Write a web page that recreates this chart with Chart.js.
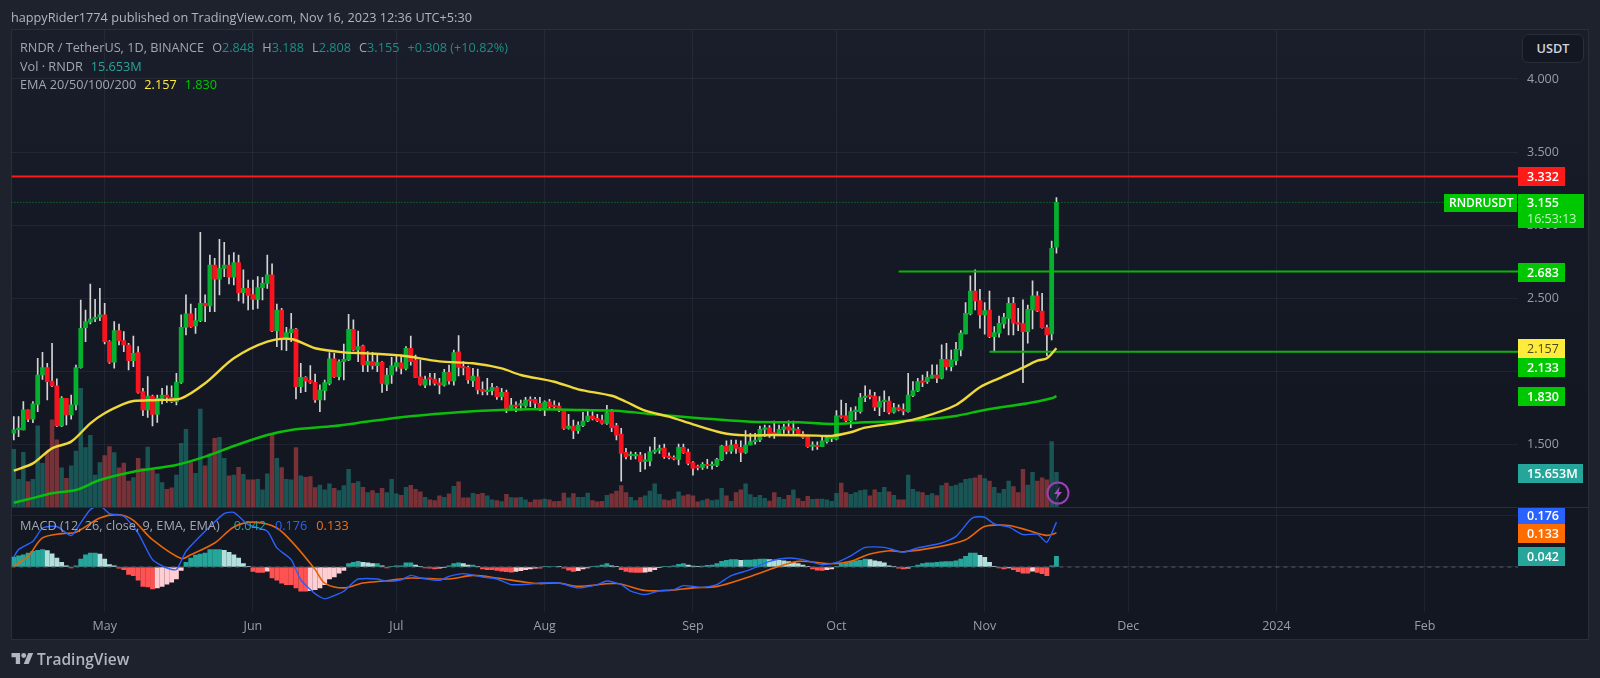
<!DOCTYPE html>
<html>
<head>
<meta charset="UTF-8">
<title>RNDR / TetherUS</title>
<style>
  html, body { margin: 0; width: 1600px; height: 678px; overflow: hidden; background: #1e222d; }
  body { position: relative; font-family: "Open Sans", sans-serif; font-size: 12.7px; color: #a3a6af; }
  #pane { position: absolute; left: 11px; top: 29px; width: 1576px; height: 609px; border: 1px solid #2a2e39;
          background: linear-gradient(#1a1e2a 0, #151925 200px, #131722 400px); }
  canvas { position: absolute; left: 0; top: 0; display: block; }
  .abs { position: absolute; white-space: nowrap; }
  .legend { line-height: 16px; }
  .legend span { margin-left: 8px; }
  .up { color: #1f8d82; }
  .tag { position: absolute; left: 1518px; width: 47px; height: 19px; line-height: 19px; box-sizing: border-box;
         padding-left: 9px; color: #fff; font-weight: 600; font-size: 12.5px; }
  #sep { position: absolute; left: 12px; top: 507px; width: 1576px; height: 1px; background: #2a2e39; }
  #unit { left: 1522px; top: 34px; width: 62px; height: 29px; line-height: 27px; box-sizing: border-box; text-align: center;
          border: 1px solid #2a2e39; border-radius: 6px; background: #131722; color: #d1d4dc; font-weight: 600; }
</style>
</head>
<body>
<div id="pane"></div>
<canvas id="chart" width="1600" height="678"></canvas>
<div id="sep"></div>

<div class="abs" style="left:11px;top:9px;color:#b2b5be;line-height:16px">happyRider1774 published on TradingView.com, Nov 16, 2023 12:36 UTC+5:30</div>
<div class="abs legend" style="left:20px;top:39px">RNDR / TetherUS, 1D, BINANCE<span>O<b class="up" style="font-weight:400">2.848</b></span><span>H<b class="up" style="font-weight:400">3.188</b></span><span>L<b class="up" style="font-weight:400">2.808</b></span><span>C<b class="up" style="font-weight:400">3.155</b></span><span class="up">+0.308 (+10.82%)</span></div>
<div class="abs legend" style="left:20px;top:58px">Vol · RNDR<span class="up" style="color:#26a69a">15.653M</span></div>
<div class="abs legend" style="left:20px;top:76px">EMA 20/50/100/200<span style="color:#ffeb3b">2.157</span><span style="color:#00c800">1.830</span></div>
<div class="abs legend" style="left:20px;top:517px">MACD (12, 26, close, 9, EMA, EMA)<span style="color:#26a69a;margin-left:14px">0.042</span><span style="color:#2962ff;margin-left:9px">0.176</span><span style="color:#ff6d00;margin-left:9px">0.133</span></div>

<div class="abs" id="unit">USDT</div>
<div class="tag" style="top:167px;background:#ff1a1a">3.332</div>
<div class="tag" style="left:1444px;top:194px;width:73px;height:18px;line-height:18px;padding-left:5px;font-size:12px;background:#00c800">RNDRUSDT</div>
<div class="tag" style="top:194px;width:66px;height:34px;line-height:16px;padding-top:1px;background:#00c800">3.155<br><span style="font-weight:400;color:#c6f2c6">16:53:13</span></div>
<div class="tag" style="top:263px;background:#00c800">2.683</div>
<div class="tag" style="top:339px;background:#ffeb3b;color:#4c4a1c;font-weight:400">2.157</div>
<div class="tag" style="top:358px;background:#00c800">2.133</div>
<div class="tag" style="top:387px;background:#00c800">1.830</div>
<div class="tag" style="top:464px;width:65px;background:#26a69a">15.653M</div>
<div class="tag" style="top:508px;height:16px;line-height:16px;background:#2962ff">0.176</div>
<div class="tag" style="top:524px;background:#ff6d00">0.133</div>
<div class="tag" style="top:547px;background:#26a69a">0.042</div>

<svg class="abs" style="left:1046px;top:481px" width="24" height="24" viewBox="0 0 24 24">
  <circle cx="12" cy="12" r="10.5" fill="#131722" fill-opacity="0.55" stroke="#9c3fb5" stroke-width="2"/>
  <path d="M14 5.5 L8 13 H11.5 L10 18.5 L16 11 H12.5 Z" fill="#a94cc2"/>
</svg>

<svg class="abs" style="left:11px;top:653px" width="23" height="11" viewBox="0 4 36 18">
  <path fill="#b2b5be" d="M14 22H7V11H0V4h14v18zM28 22h-8l7.5-18h8L28 22z"/><circle fill="#b2b5be" cx="20" cy="8" r="4"/>
</svg>
<div class="abs" style="left:37px;top:649px;font-size:15.5px;line-height:20px;font-weight:600;color:#b2b5be">TradingView</div>

<script src="https://cdn.jsdelivr.net/npm/chart.js@4"></script>
<script>
const firstDay = '2023-04-12';
const slotCount = 315;

const monthDays = ['2023-05-01', '2023-06-01', '2023-07-01', '2023-08-01', '2023-09-01', '2023-10-01', '2023-11-01', '2023-12-01', '2024-01-01', '2024-02-01'];
const monthNames = ['May', 'Jun', 'Jul', 'Aug', 'Sep', 'Oct', 'Nov', 'Dec', '2024', 'Feb'];
const priceTicks = [1.5, 2, 2.5, 3, 3.5, 4];
const macdTicks = [0, 0.2];

const opens = [
  1.575,1.600,1.598,1.735,1.671,1.773,1.974,2.024,1.933,1.899,
  1.625,1.814,1.700,1.769,2.024,2.298,2.335,2.357,2.369,2.385,
  2.202,2.061,2.278,2.209,2.179,2.072,2.127,1.860,1.735,1.830,
  1.705,1.814,1.837,1.821,1.792,1.924,2.300,2.392,2.310,2.346,
  2.465,2.446,2.727,2.629,2.704,2.727,2.643,2.743,2.538,2.567,
  2.524,2.492,2.572,2.601,2.659,2.275,2.419,2.218,2.264,2.289,
  1.894,1.958,1.938,1.924,1.803,1.866,1.917,2.084,1.963,2.065,
  2.077,2.287,2.145,2.173,2.043,2.065,2.038,2.061,1.910,1.974,
  2.031,2.058,2.019,2.156,2.076,1.962,1.905,1.951,1.946,1.921,
  1.905,1.992,1.933,2.133,2.026,2.026,1.935,1.962,1.876,1.860,
  1.867,1.887,1.825,1.855,1.746,1.768,1.768,1.762,1.807,1.807,
  1.780,1.746,1.791,1.760,1.762,1.734,1.609,1.625,1.593,1.627,
  1.659,1.693,1.677,1.666,1.643,1.723,1.627,1.570,1.444,1.422,
  1.420,1.426,1.383,1.385,1.447,1.460,1.474,1.419,1.410,1.396,
  1.479,1.447,1.374,1.346,1.342,1.362,1.353,1.355,1.392,1.488,
  1.453,1.499,1.479,1.444,1.495,1.518,1.529,1.602,1.613,1.573,
  1.570,1.602,1.620,1.597,1.602,1.570,1.552,1.485,1.487,1.484,
  1.518,1.538,1.534,1.696,1.694,1.662,1.723,1.723,1.819,1.833,
  1.830,1.753,1.792,1.796,1.719,1.751,1.739,1.723,1.833,1.865,
  1.933,1.929,1.952,1.974,1.952,2.082,2.031,2.072,2.145,2.255,
  2.392,2.549,2.483,2.385,2.419,2.237,2.260,2.323,2.362,2.465,
  2.333,2.326,2.271,2.419,2.515,2.412,2.298,2.255,2.848
];
const highs = [
  1.689,1.689,1.792,1.735,1.792,2.088,2.129,2.054,2.191,1.947,
  1.826,1.814,1.837,2.042,2.487,2.419,2.597,2.492,2.567,2.465,
  2.210,2.339,2.323,2.271,2.191,2.241,2.168,1.883,1.963,1.837,
  1.837,1.883,1.899,1.899,1.986,2.385,2.522,2.460,2.430,2.951,
  2.522,2.795,2.773,2.903,2.882,2.795,2.811,2.795,2.693,2.624,
  2.624,2.647,2.643,2.795,2.734,2.460,2.430,2.300,2.396,2.294,
  2.054,1.963,2.038,1.981,1.906,1.940,2.127,2.122,2.077,2.186,
  2.389,2.351,2.275,2.179,2.134,2.129,2.122,2.065,2.020,2.095,
  2.110,2.110,2.168,2.241,2.110,2.076,1.967,1.985,1.985,1.951,
  2.012,2.042,2.145,2.243,2.065,2.035,2.019,2.015,1.928,1.951,
  1.917,1.894,1.882,1.871,1.814,1.791,1.803,1.821,1.825,1.821,
  1.821,1.798,1.807,1.798,1.784,1.739,1.705,1.666,1.654,1.718,
  1.730,1.723,1.705,1.700,1.766,1.739,1.643,1.609,1.472,1.449,
  1.444,1.444,1.437,1.483,1.547,1.495,1.501,1.442,1.421,1.501,
  1.501,1.467,1.381,1.358,1.374,1.396,1.380,1.403,1.492,1.524,
  1.529,1.529,1.524,1.593,1.574,1.574,1.625,1.632,1.627,1.659,
  1.632,1.638,1.661,1.659,1.616,1.586,1.563,1.517,1.517,1.552,
  1.552,1.557,1.730,1.803,1.780,1.751,1.757,1.849,1.899,1.872,
  1.856,1.826,1.865,1.826,1.780,1.769,1.776,1.986,1.929,1.952,
  1.974,1.997,2.043,2.043,2.180,2.191,2.145,2.198,2.278,2.469,
  2.652,2.693,2.561,2.469,2.549,2.305,2.378,2.396,2.504,2.506,
  2.431,2.488,2.453,2.618,2.545,2.533,2.316,2.891,3.188
];
const lows = [
  1.529,1.552,1.598,1.655,1.648,1.723,1.944,1.803,1.894,1.620,
  1.620,1.632,1.671,1.735,2.020,2.202,2.323,2.339,2.346,2.186,
  2.054,2.020,2.179,2.134,2.008,2.031,1.849,1.696,1.684,1.625,
  1.650,1.776,1.787,1.785,1.769,1.917,2.248,2.300,2.259,2.339,
  2.339,2.408,2.408,2.522,2.647,2.597,2.590,2.481,2.465,2.419,
  2.423,2.430,2.487,2.567,2.271,2.168,2.145,2.141,2.202,1.810,
  1.853,1.860,1.917,1.787,1.723,1.803,1.906,1.958,1.940,1.940,
  2.072,2.141,2.065,1.997,1.997,2.013,1.997,1.855,1.867,1.917,
  2.000,1.981,2.008,2.042,1.956,1.905,1.887,1.905,1.905,1.844,
  1.898,1.912,1.905,1.967,1.974,1.917,1.894,1.844,1.837,1.837,
  1.837,1.807,1.803,1.716,1.739,1.723,1.734,1.752,1.757,1.746,
  1.730,1.695,1.746,1.746,1.723,1.602,1.604,1.538,1.574,1.620,
  1.654,1.666,1.654,1.638,1.636,1.586,1.529,1.248,1.399,1.396,
  1.399,1.312,1.330,1.351,1.438,1.438,1.403,1.399,1.392,1.358,
  1.438,1.358,1.289,1.325,1.328,1.335,1.330,1.346,1.387,1.433,
  1.438,1.438,1.380,1.438,1.495,1.501,1.518,1.552,1.547,1.540,
  1.563,1.574,1.574,1.563,1.559,1.540,1.479,1.460,1.465,1.484,
  1.507,1.518,1.529,1.678,1.655,1.614,1.666,1.712,1.792,1.810,
  1.730,1.696,1.723,1.707,1.712,1.728,1.700,1.719,1.826,1.860,
  1.894,1.917,1.952,1.922,1.947,2.008,2.002,2.043,2.104,2.255,
  2.385,2.419,2.294,2.253,2.230,2.134,2.232,2.294,2.248,2.248,
  2.278,1.922,2.191,2.289,2.408,2.294,2.107,2.214,2.808
];
const closes = [
  1.598,1.605,1.735,1.671,1.776,1.974,2.024,1.928,1.899,1.625,
  1.814,1.700,1.769,2.024,2.293,2.339,2.357,2.369,2.385,2.202,
  2.061,2.278,2.209,2.179,2.072,2.122,1.855,1.735,1.830,1.705,
  1.814,1.837,1.821,1.792,1.924,2.300,2.392,2.305,2.346,2.465,
  2.446,2.727,2.629,2.704,2.727,2.643,2.743,2.538,2.567,2.519,
  2.492,2.572,2.601,2.659,2.275,2.419,2.218,2.264,2.289,1.894,
  1.958,1.933,1.924,1.803,1.871,1.922,2.084,1.963,2.065,2.081,
  2.287,2.145,2.168,2.043,2.068,2.038,2.059,1.917,1.974,2.036,
  2.059,2.019,2.156,2.065,1.958,1.910,1.944,1.946,1.917,1.905,
  1.992,1.933,2.127,2.026,2.022,1.940,1.967,1.871,1.862,1.867,
  1.889,1.825,1.855,1.746,1.768,1.757,1.773,1.803,1.798,1.780,
  1.746,1.791,1.757,1.757,1.730,1.609,1.625,1.593,1.632,1.659,
  1.693,1.675,1.661,1.643,1.716,1.613,1.563,1.438,1.415,1.426,
  1.426,1.381,1.390,1.449,1.460,1.472,1.415,1.408,1.399,1.479,
  1.442,1.369,1.335,1.340,1.362,1.353,1.358,1.396,1.488,1.449,
  1.495,1.472,1.444,1.495,1.518,1.527,1.602,1.613,1.563,1.569,
  1.602,1.620,1.597,1.602,1.570,1.547,1.483,1.487,1.483,1.523,
  1.545,1.541,1.694,1.685,1.662,1.723,1.728,1.819,1.830,1.826,
  1.753,1.792,1.796,1.717,1.751,1.735,1.726,1.837,1.867,1.929,
  1.924,1.958,1.974,1.952,2.082,2.031,2.077,2.150,2.260,2.396,
  2.549,2.481,2.385,2.415,2.237,2.264,2.328,2.369,2.465,2.328,
  2.321,2.271,2.424,2.515,2.412,2.298,2.248,2.841,3.155
];
// millions of RNDR
const volumes = [
  25.9,12.5,24.6,11.4,12.5,36.5,19.7,24.5,39.2,30.2,
  17.6,12.9,18.5,25.2,53.4,26.7,32.3,14.4,20,23.1,
  27.2,24.5,17.6,19.8,11.7,13.2,21.9,17.4,27,16.7,
  14.9,11,8,8.6,14.4,28.7,35,20,15.2,44.1,
  18.5,23.9,30.9,31.4,21.9,14,14.4,17.9,14.7,12.2,
  12.2,12.5,7.7,14.9,33.2,21.9,17.7,12.5,12.2,26.7,
  14,13.4,13.7,8.7,9.9,7.7,10.4,8.4,7.4,9.6,
  17,10.7,11.4,8.9,6.5,7.4,6.2,8.4,6.5,12.5,
  5.9,5.3,8.9,9.8,8,6.8,4.4,3.2,2.9,5,
  4.4,5.9,9.3,11.3,4.1,4.1,6.2,5.7,6.2,5,
  3.2,2.9,2.4,5.7,4.2,4.1,4.4,3.2,2.1,3.2,
  3.2,3.6,3.2,2.4,2.6,6.3,4.1,6,4.4,4.4,
  6.3,2.9,2.3,2.6,5.3,5.9,7.2,9.6,6.5,4.4,
  2.9,4.2,5,7.2,10.4,5.7,3.2,2.9,3.6,6.8,
  5,5.6,5,2.3,2.9,3.6,2.9,3.2,8.4,5,
  2.6,6.5,7.7,10.4,5.6,4.4,5.3,3.9,2.7,6.5,
  4.4,3.5,5.3,7.7,3.8,2.6,4.8,3.5,3.6,3.6,
  3.2,2.6,6.2,10.8,6.5,5.7,6.5,7.4,7.7,5,
  7.7,6.6,8.9,6.8,5.3,3.2,3.2,14.4,8,6.8,
  6.5,5.3,6,5.1,9.6,10.8,9.3,9.9,10.8,12.5,
  12.8,13.1,14.4,12.8,11.7,8.9,6.2,8,11.7,9.2,
  6.5,17,9.9,15.6,11.7,13.1,12.2,29.4,15.653
];
const macdHist = [
  .039,.044,.048,.055,.061,.065,.068,.064,.052,.035,
  .018,.005,-.004,.005,.031,.048,.055,.055,.051,.031,
  .009,.005,-.005,-.010,-.029,-.034,-.052,-.076,-.078,-.086,
  -.082,-.076,-.067,-.060,-.047,-.013,.018,.035,.047,.051,
  .055,.068,.068,.068,.065,.058,.048,.035,.013,.001,
  -.017,-.021,-.021,-.016,-.043,-.052,-.063,-.069,-.069,-.082,
  -.095,-.095,-.093,-.089,-.082,-.069,-.047,-.039,-.024,-.013,
  .013,.018,.022,.018,.016,.013,.013,.005,-.004,.001,
  .005,.005,.016,.016,.008,.001,-.004,-.005,-.008,-.005,
  -.001,.005,.013,.016,.013,.008,.008,.001,-.008,-.010,
  -.010,-.013,-.016,-.018,-.020,-.017,-.014,-.010,-.008,-.005,
  -.005,.001,.002,.002,.001,-.005,-.012,-.017,-.014,-.008,
  -.004,.001,.004,.008,.013,.005,.001,-.010,-.017,-.020,
  -.021,-.021,-.020,-.017,-.010,-.001,.001,.003,.005,.010,
  .013,.008,.004,.001,.004,.007,.008,.013,.022,.026,
  .029,.029,.026,.027,.027,.029,.031,.031,.029,.027,
  .026,.024,.021,.018,.013,.008,.001,-.008,-.012,-.013,
  -.010,-.008,.001,.010,.016,.021,.024,.026,.031,.029,
  .024,.021,.016,.005,.001,-.005,-.008,-.005,.001,.008,
  .013,.016,.016,.018,.020,.021,.021,.024,.031,.042,
  .055,.055,.046,.038,.018,.001,-.004,-.008,-.004,-.010,
  -.018,-.024,-.024,-.016,-.021,-.026,-.034,.005,.042
];

// lines read at the bends only, x is the candle number
const emaYellowAt = [0,4,8,12,16,19,23,25,30,35,40,46,53,58,63,69,74,81,89,96,102,106,113,118,125,128,132,137,142,148,153,159,168,171,175,178,185,190,197,202,206,211,214,216,218];
const emaYellow = [1.319,1.369,1.472,1.518,1.643,1.712,1.776,1.796,1.803,1.814,1.917,2.088,2.202,2.220,2.157,2.129,2.122,2.107,2.067,2.054,2.019,1.974,1.928,1.876,1.832,1.791,1.730,1.689,1.636,1.579,1.561,1.563,1.559,1.557,1.582,1.614,1.648,1.685,1.769,1.890,1.951,2.024,2.072,2.088,2.157];
const emaGreenAt = [0,3,8,13,18,25,34,40,46,53,58,67,74,81,88,98,108,119,126,133,144,154,164,171,178,188,197,203,212,217,218];
const emaGreen = [1.100,1.123,1.164,1.187,1.255,1.312,1.358,1.415,1.488,1.563,1.598,1.625,1.655,1.684,1.707,1.730,1.739,1.734,1.730,1.707,1.677,1.654,1.650,1.639,1.650,1.662,1.694,1.735,1.780,1.815,1.830];
const macdLineAt = [0,1,4,6,9,12,14,16,18,20,23,26,29,32,34,36,40,44,46,49,53,55,58,60,63,65,67,69,71,72,76,78,81,83,85,89,91,94,98,101,104,108,110,114,118,122,124,127,129,132,135,138,140,144,147,150,154,158,162,165,169,172,175,178,182,186,189,194,197,200,201,203,205,208,211,214,216,218];
const macdLine = [.039,.068,.101,.153,.159,.123,.173,.225,.241,.209,.199,.133,.029,-.004,-.010,.061,.140,.209,.214,.166,.140,.075,.029,-.050,-.105,-.125,-.112,-.095,-.060,-.047,-.047,-.056,-.050,-.033,-.043,-.052,-.037,-.026,-.039,-.047,-.069,-.067,-.063,-.063,-.082,-.069,-.055,-.069,-.095,-.108,-.093,-.089,-.073,-.080,-.069,-.034,-.010,.022,.035,.029,.009,.018,.044,.077,.077,.058,.075,.094,.120,.186,.196,.195,.169,.157,.127,.129,.097,.176];
const signalLineAt = [0,3,6,10,13,18,22,25,29,35,37,42,46,50,55,59,63,65,69,73,78,83,91,96,101,107,110,114,118,126,132,137,142,147,153,159,164,171,175,179,183,186,193,199,203,208,212,216,218];
const signalLine = [.003,.042,.114,.131,.136,.192,.205,.183,.107,.033,.048,.094,.157,.176,.153,.081,-.010,-.063,-.082,-.063,-.054,-.043,-.047,-.033,-.043,-.060,-.065,-.063,-.076,-.065,-.092,-.092,-.082,-.076,-.043,-.004,.022,.013,.022,.051,.064,.060,.078,.107,.159,.163,.144,.124,.133];

const resistance = 3.332;
const lastClose = 3.155;
const upperLevel = 2.683;
const lowerLevel = 2.133;
const upperLevelFrom = 185;
const lowerLevelFrom = 204;

const upColor = '#06b02f';
const downColor = '#f7141f';
const gridColor = 'rgba(240,243,250,0.06)';
const tickColor = '#9a9da6';
const tickFont = { family: '"Open Sans", sans-serif', size: 12.5 };

const days = [];
for (let i = 0; i < slotCount; i++) {
    const d = new Date(firstDay + 'T00:00:00Z');
    d.setUTCDate(d.getUTCDate() + i);
    days.push(d.toISOString().slice(0, 10));
}

const isUp = opens.map((o, i) => closes[i] >= o);
const toPoints = (at, values) => at.map((x, i) => ({ x, y: values[i] }));
const level = (value, from) => [{ x: from, y: value }, { x: slotCount - 0.5, y: value }];

// same colour rules as the TradingView histogram: dark when growing, pale when shrinking
const histColors = macdHist.map((v, i) => {
    const prev = i > 0 ? macdHist[i - 1] : 0;
    if (v >= 0) return v >= prev ? '#26a69a' : '#b2dfdb';
    return v <= prev ? '#ff5252' : '#ffcdd2';
});

const lineDefaults = { type: 'line', xAxisID: 'x2', pointRadius: 0, order: 0 };
const macdClip = { left: 0, top: -477, right: 0, bottom: 0 };

const datasets = [
    { type: 'bar', yAxisID: 'vol', data: volumes, order: 6, grouped: false, barThickness: 3.8,
      backgroundColor: isUp.map(u => u ? 'rgba(38,166,154,0.43)' : 'rgba(239,83,80,0.46)') },
    { type: 'bar', yAxisID: 'y', data: lows.map((l, i) => [l, highs[i]]), order: 5, grouped: false, barThickness: 1,
      backgroundColor: '#d4d4d4' },
    { type: 'bar', yAxisID: 'y', data: opens.map((o, i) => [o, closes[i]]), order: 4, grouped: false, barThickness: 4.1,
      minBarLength: 1.5, backgroundColor: isUp.map(u => u ? upColor : downColor) },
    { type: 'bar', yAxisID: 'macd', data: macdHist, order: 3, grouped: false, barThickness: 4.2,
      backgroundColor: histColors },

    { ...lineDefaults, yAxisID: 'y', data: toPoints(emaYellowAt, emaYellow), borderColor: '#eed83a', borderWidth: 2.4, tension: 0.3 },
    { ...lineDefaults, yAxisID: 'y', data: toPoints(emaGreenAt, emaGreen), borderColor: '#0cbd0c', borderWidth: 2.5, tension: 0.3 },

    { ...lineDefaults, yAxisID: 'y', data: level(resistance, -0.5), borderColor: '#ff1a1a', borderWidth: 2 },
    { ...lineDefaults, yAxisID: 'y', data: level(lastClose, -0.5), borderColor: '#0f8a2a', borderWidth: 1, borderDash: [1, 2] },
    { ...lineDefaults, yAxisID: 'y', data: level(upperLevel, upperLevelFrom), borderColor: '#0ab30a', borderWidth: 2 },
    { ...lineDefaults, yAxisID: 'y', data: level(lowerLevel, lowerLevelFrom), borderColor: '#0ab30a', borderWidth: 2 },

    { ...lineDefaults, yAxisID: 'macd', data: level(0, -0.5), borderColor: '#5d606b', borderWidth: 1, borderDash: [4, 4], order: 2 },
    { ...lineDefaults, yAxisID: 'macd', data: toPoints(macdLineAt, macdLine), borderColor: '#2962ff', borderWidth: 1.4, tension: 0.2, clip: macdClip },
    { ...lineDefaults, yAxisID: 'macd', data: toPoints(signalLineAt, signalLine), borderColor: '#e8650a', borderWidth: 1.6, tension: 0.3, clip: macdClip }
];

new Chart(document.getElementById('chart').getContext('2d'), {
    type: 'bar',
    data: { labels: days, datasets },
    options: {
        responsive: false,
        animation: false,
        events: [],
        layout: { padding: { left: 11.4, top: 30, right: 12, bottom: 39 } },
        plugins: { legend: { display: false }, tooltip: { enabled: false }, title: { display: false } },
        scales: {
            x: {
                type: 'category',
                grid: { color: gridColor, offset: false, drawTicks: false },
                border: { display: false },
                afterBuildTicks: axis => {
                    axis.ticks = monthDays.map(d => ({ value: days.indexOf(d) }));
                },
                afterFit: axis => { axis.height = 27; },
                ticks: {
                    autoSkip: false, maxRotation: 0, padding: 7, color: tickColor, font: tickFont,
                    callback: value => monthNames[monthDays.indexOf(days[value])]
                }
            },
            // offset has to be off here, the bar defaults would shift this axis by half a tick step
            x2: { type: 'linear', display: false, offset: false, min: -0.5, max: slotCount - 0.5 },
            y: {
                position: 'right', weight: 1, min: 0.352, max: 4.335,
                grid: { color: gridColor, drawTicks: false },
                border: { display: false },
                afterBuildTicks: axis => { axis.ticks = priceTicks.map(value => ({ value })); },
                afterFit: axis => { axis.width = 70; },
                ticks: { autoSkip: false, padding: 9, color: tickColor, font: tickFont, callback: v => v.toFixed(3) }
            },
            macd: {
                position: 'right', weight: -1, min: -0.1765, max: 2.106,
                grid: { color: gridColor, drawTicks: false },
                border: { display: false },
                afterBuildTicks: axis => { axis.ticks = macdTicks.map(value => ({ value })); },
                afterFit: axis => { axis.width = 0; },
                ticks: { autoSkip: false, padding: 9, color: tickColor, font: tickFont, callback: v => v.toFixed(3) }
            },
            vol: { display: false, min: -47.25, max: 214.65 }
        }
    }
});
</script>
</body>
</html>
